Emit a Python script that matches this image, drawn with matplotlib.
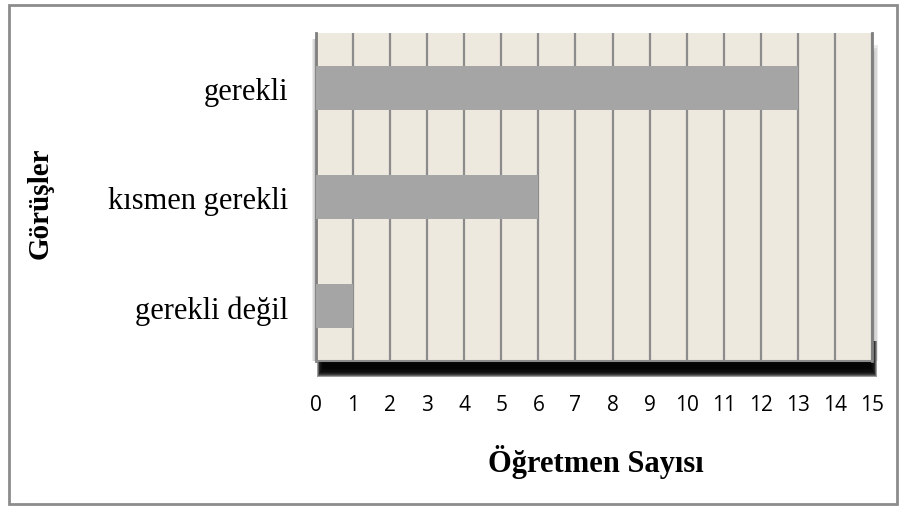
import matplotlib.pyplot as plt
from matplotlib.patches import Rectangle

# data
categories = ['gerekli değil', 'kısmen gerekli', 'gerekli']
counts = [1, 6, 13]
x_ticks = list(range(0, 16))

W, H = 904, 510
fig = plt.figure(figsize=(W / 100, H / 100), dpi=100, facecolor='white')


def fx(px):
    return px / W


def fy(py):
    return 1 - py / H


def add_rect(x0, y0, x1, y1, **kw):
    # pixel coords, y measured from the top
    fig.patches.append(Rectangle((fx(x0), fy(y1)), fx(x1 - x0), (y1 - y0) / H,
                                 transform=fig.transFigure, **kw))


# outer border
add_rect(9, 6, 897, 505, fill=False, edgecolor='#8c8c8c', linewidth=2)

left, right, top, bottom = 316, 872, 34, 362

# soft shadow: heavy along the bottom, light on the right and left
for i in range(8):
    add_rect(left + 1 + i * 0.8, bottom - 20, right + 5 - i * 0.8, bottom + 16 - i * 1.1,
             facecolor='black', edgecolor='none', alpha=0.38, zorder=0)
for i in range(4):
    add_rect(right, top + 12 + i * 3, right + 6 - i * 1.3, bottom,
             facecolor='#555555', edgecolor='none', alpha=0.12, zorder=0)
for i in range(3):
    add_rect(left - 4 + i, top + 6, left, bottom,
             facecolor='#666666', edgecolor='none', alpha=0.12, zorder=0)

ax = fig.add_axes([fx(left), fy(bottom), fx(right - left), (bottom - top) / H])
ax.set_facecolor('#ede9df')
ax.set_zorder(1)

ax.barh(categories, counts, height=0.4, color='#a5a5a5', zorder=3)

ax.set_xlim(0, 15)
ax.set_ylim(-0.5, 2.5)
ax.set_xticks(x_ticks)
ax.set_xticklabels([str(t) for t in x_ticks], fontsize=15, family='Open Sans')
ax.xaxis.grid(True, color='#8c8c8c', linewidth=1.6, zorder=1)
ax.set_axisbelow(True)
ax.tick_params(axis='both', length=0)
ax.tick_params(axis='x', pad=24)
ax.tick_params(axis='y', pad=20)
for lab in ax.get_yticklabels():
    lab.set_family('Liberation Serif')
    lab.set_fontsize(22)

ax.spines['top'].set_visible(False)
ax.spines['bottom'].set_color('#8c8c8c')
ax.spines['bottom'].set_linewidth(1.5)
for s in ['left', 'right']:
    ax.spines[s].set_color('#7f7f7f')
    ax.spines[s].set_linewidth(2)

fig.text(fx(596), fy(462), 'Öğretmen Sayısı', ha='center', va='center',
         family='Liberation Serif', fontweight='bold', fontsize=22)
fig.text(fx(40), fy(203), 'Görüşler', ha='center', va='center', rotation=90,
         family='Liberation Serif', fontweight='bold', fontsize=21)

fig.savefig('out.png', dpi=100, facecolor='white')
